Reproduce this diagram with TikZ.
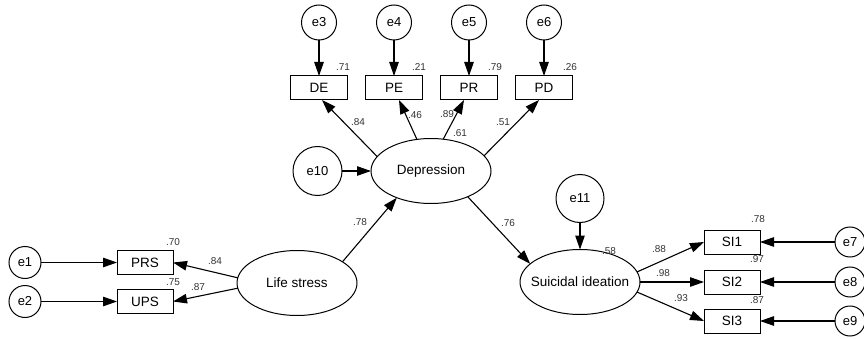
\documentclass[tikz,border=0pt]{standalone}
\usepackage{fontspec}
\setmainfont{Liberation Sans}
\usetikzlibrary{
    positioning,
    arrows.meta,
    shapes.geometric
}
\tikzset{%
    observed/.style={%
        rectangle,
        draw,
        line width=1pt,
        inner sep = 0pt,
        outer sep = 0pt,
        minimum width=57pt,
        minimum height=24pt,
        font=\fontsize{13.5}{15}\selectfont
    },
    latent/.style={%
        ellipse,
        draw,
        line width=1pt,
        inner sep = 0pt,
        outer sep = 0pt,
        minimum width=120pt,
        minimum height=65pt,
        font=\fontsize{13.5}{15}\selectfont
    },
    error/.style={%
        circle,
        draw,
        line width=1pt,
        inner sep = 0pt,
        outer sep = 0pt,
        minimum size=35pt,
        font=\fontsize{13}{15}\selectfont
    },
    coef/.style={%
        inner sep = 0pt,
        text=black!80,
        font=\fontsize{10}{12}\selectfont
    },
    link/.style={%
        >={Triangle[length=14pt,width=9.5pt]},
        line width=1.1pt
    },
}

\begin{document}
\begin{tikzpicture}

    \useasboundingbox (0,0) rectangle (864pt,-339pt);

    % latent variables
    \node[latent] (dep) at (431pt,-171pt) {Depression};
    \node[latent] (ls) at (297pt,-283pt) {Life stress};
    \node[latent] (si) at (580pt,-282pt) {\makebox[0pt]{Suicidal ideation}};

    % depression indicators
    \node[observed] (DE) at (319pt,-88pt) {DE};
    \node[observed, right=18pt of DE] (PE) {PE};
    \node[observed, right=18pt of PE] (PR) {PR};
    \node[observed, right=18pt of PR] (PD) {PD};

    \node[error, above=36pt of DE] (e3) {e3};
    \node[error, above=36pt of PE] (e4) {e4};
    \node[error, above=36pt of PR] (e5) {e5};
    \node[error, above=36pt of PD] (e6) {e6};

    % life stress indicators
    \node[observed, minimum width=56pt] (PRS) at (145pt,-262.5pt) {PRS};
    \node[observed, minimum width=56pt, below=15pt of PRS] (UPS) {UPS};

    \node[error, minimum size=32pt, left=76pt of PRS] (e1) {e1};
    \node[error, minimum size=32pt, left=76pt of UPS] (e2) {e2};

    % suicidal ideation indicators
    \node[observed, minimum width=56pt, right=64pt of si] (SI2) {SI2};
    \node[observed, minimum width=56pt, above=16pt of SI2] (SI1) {SI1};
    \node[observed, minimum width=56pt, below=15pt of SI2] (SI3) {SI3};

    \node[error, minimum size=30pt, right=75pt of SI1] (e7) {e7};
    \node[error, minimum size=30pt, right=75pt of SI2] (e8) {e8};
    \node[error, minimum size=30pt, right=75pt of SI3] (e9) {e9};

    % disturbances
    \node[error, minimum size=49pt, left=29pt of dep] (e10) {e10};
    \node[error, minimum size=48pt, above=27pt of si] (e11) {e11};

    % arrows
    \draw[link, ->] (e3) to (DE);
    \draw[link, ->] (e4) to (PE);
    \draw[link, ->] (e5) to (PR);
    \draw[link, ->] (e6) to (PD);

    \draw[link, ->] (dep.165) to ([xshift=3pt]DE.south);
    \draw[link, ->] (dep.114) to ([xshift=5pt]PE.south);
    \draw[link, ->] (dep.69) to ([xshift=-5pt]PR.south);
    \draw[link, ->] (dep.16) to ([xshift=-5pt]PD.south);

    \draw[link, ->] (e10) to (dep);
    \draw[link, ->] (ls.25) to (dep.218);
    \draw[link, ->] (dep.-35) to (si.160);
    \draw[link, ->] (e11) to (si);

    \draw[link, ->] (ls.175) to (PRS.east);
    \draw[link, ->] (ls.185) to (UPS.east);
    \draw[link, ->] (e1) to (PRS);
    \draw[link, ->] (e2) to (UPS);

    \draw[link, ->] (si.10) to (SI1.west);
    \draw[link, ->] (si.east) to (SI2.west);
    \draw[link, ->] (si.-10) to (SI3.west);
    \draw[link, ->] (e7) to (SI1);
    \draw[link, ->] (e8) to (SI2);
    \draw[link, ->] (e9) to (SI3);

    % squared multiple correlations
    \node[coef] (r-de) at (343pt,-67pt) {.71};
    \node[coef] (r-pe) at (419pt,-67pt) {.21};
    \node[coef] (r-pr) at (495pt,-67pt) {.79};
    \node[coef] (r-pd) at (570pt,-67pt) {.26};
    \node[coef] (r-prs) at (173pt,-242pt) {.70};
    \node[coef] (r-ups) at (173pt,-282pt) {.75};
    \node[coef] (r-si1) at (758pt,-219pt) {.78};
    \node[coef] (r-si2) at (757pt,-259pt) {.97};
    \node[coef] (r-si3) at (757pt,-300pt) {.87};
    \node[coef] (r-si) at (609pt,-251pt) {.58};

    % path coefficients
    \node[coef] (w-de) at (358pt,-122pt) {.84};
    \node[coef] (w-pe) at (415pt,-115pt) {.46};
    \node[coef] (w-pr1) at (447pt,-114pt) {.89};
    \node[coef] (w-pr2) at (460pt,-133pt) {.61};
    \node[coef] (w-pd) at (503pt,-122pt) {.51};
    \node[coef] (w-ls) at (360pt,-222pt) {.78};
    \node[coef] (w-dep) at (508pt,-223pt) {.76};
    \node[coef] (w-prs) at (215pt,-261pt) {.84};
    \node[coef] (w-ups) at (198pt,-287pt) {.87};
    \node[coef] (w-si1) at (659pt,-249pt) {.88};
    \node[coef] (w-si2) at (663pt,-273pt) {.98};
    \node[coef] (w-si3) at (681pt,-298pt) {.93};
\end{tikzpicture}
\end{document}
